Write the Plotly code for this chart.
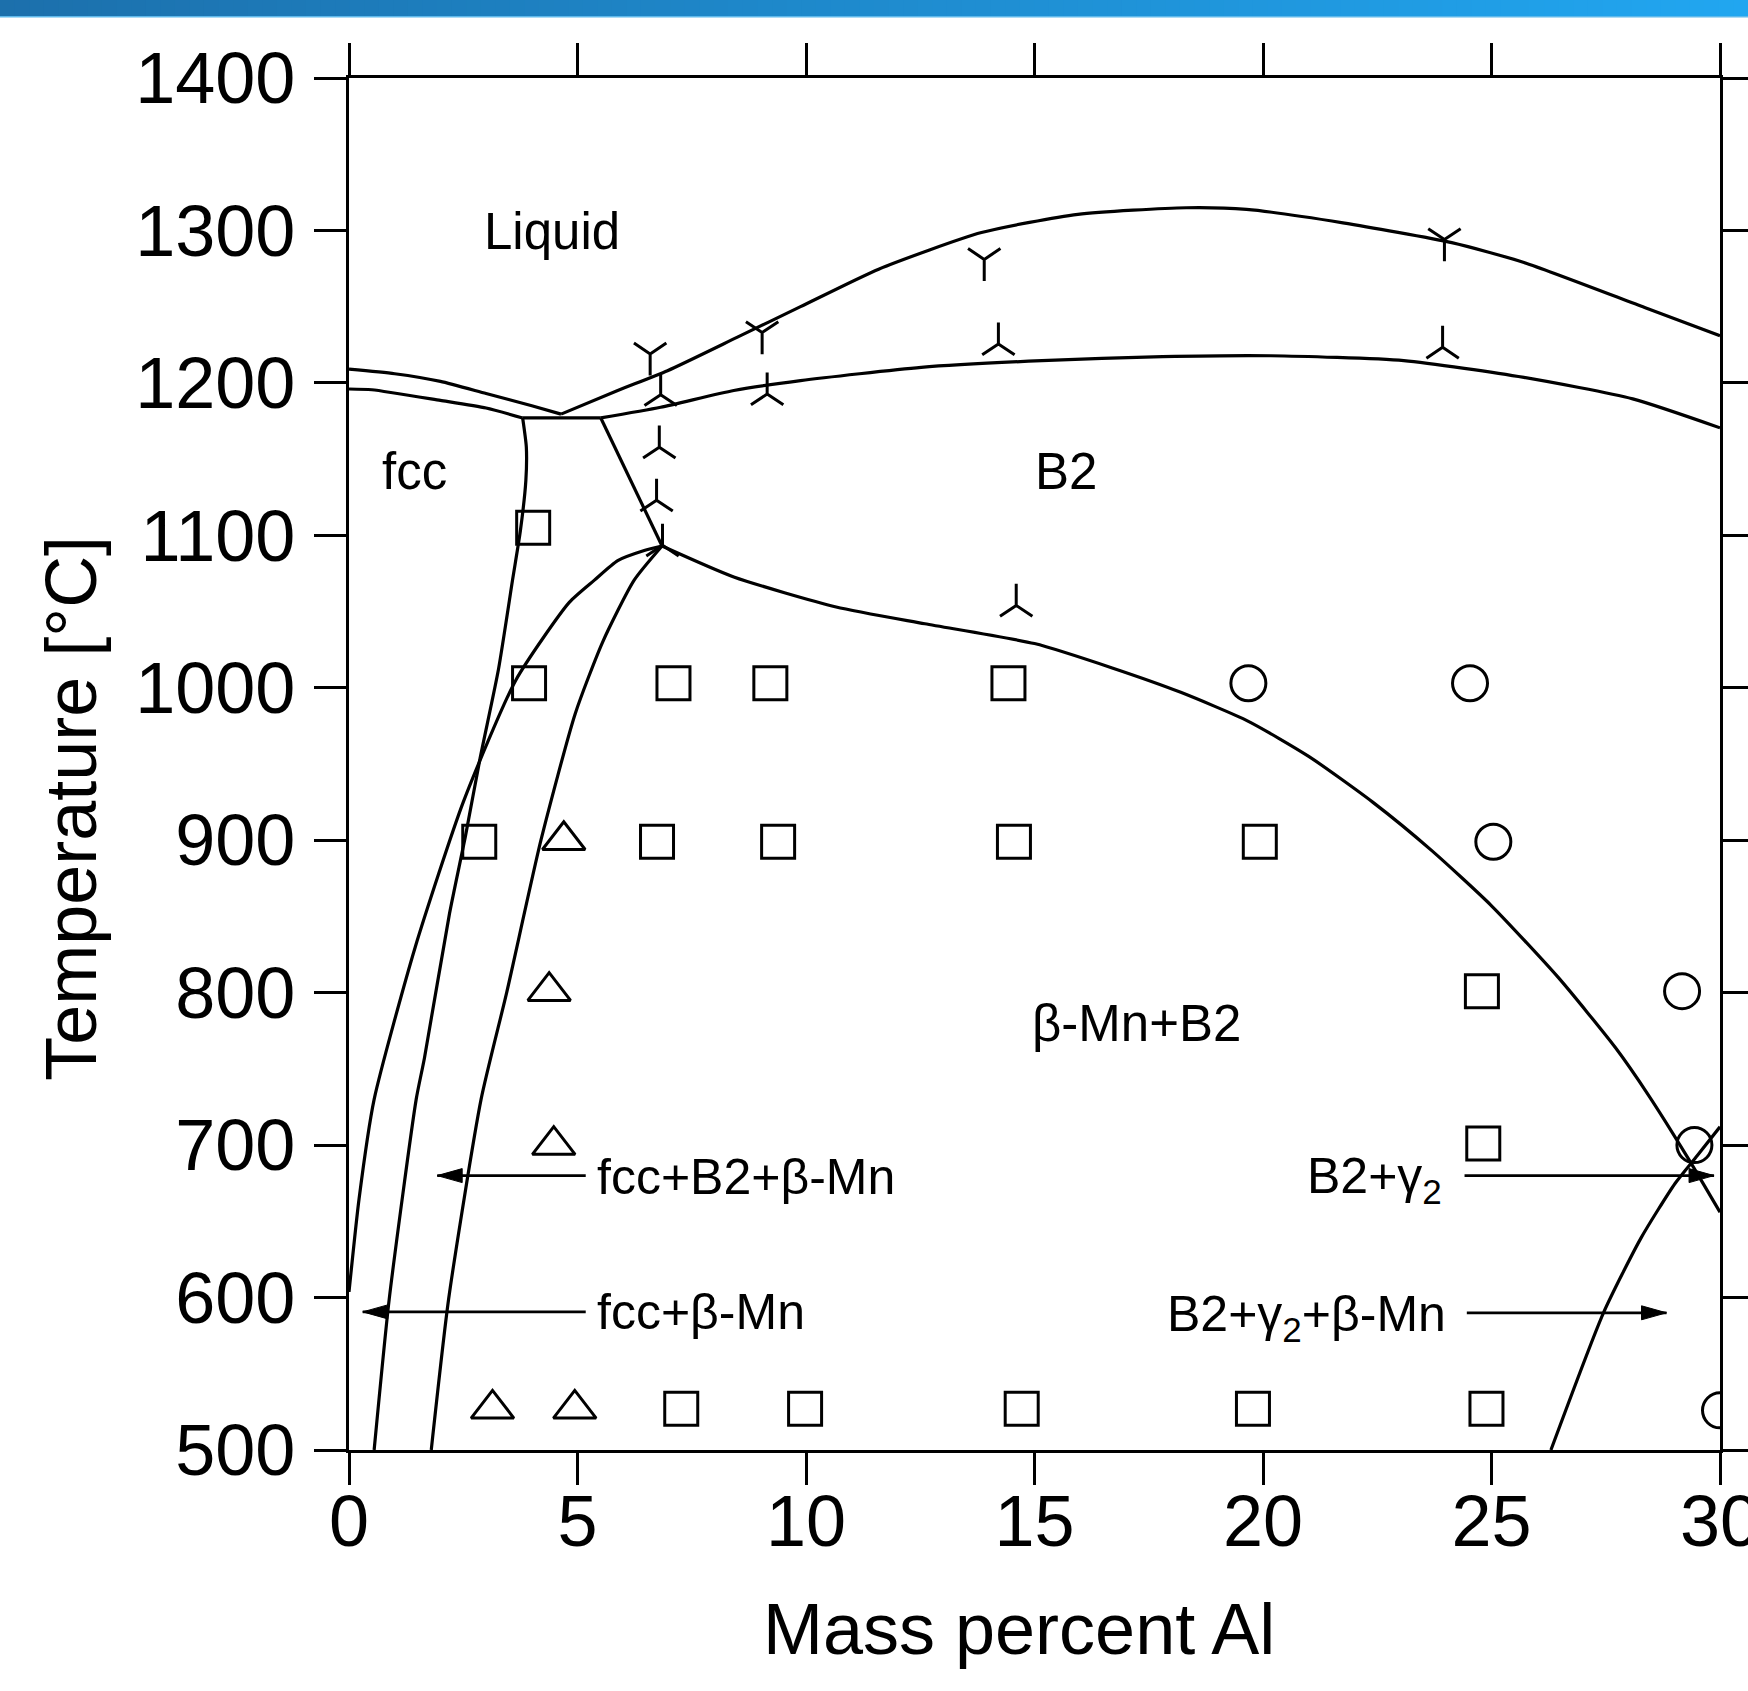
import plotly.graph_objects as go

# ---- phase boundaries (mass % Al, temperature in °C) ----
liq_fcc_x = [0.0, 1.0, 2.0, 3.0, 4.0, 4.64]
liq_fcc_t = [1209, 1206, 1201, 1193, 1185, 1179.5]

sol_fcc_x = [0.0, 0.5, 2.0, 3.0, 3.8]
sol_fcc_t = [1196, 1195.5, 1188.5, 1183.5, 1177]

peri_x = [3.8, 5.51]
peri_t = [1177, 1177]

liq_b2_x = [4.64, 5.88, 6.97, 8.5, 9.88, 11.59, 13.84, 15.95, 18.32, 19.64, 21.75, 24.13, 25.71, 28.35, 30.0]
liq_b2_t = [1179.5, 1195, 1208, 1230, 1250, 1274.6, 1298.6, 1310.6, 1314.9, 1313.8, 1305, 1292, 1279, 1249.5, 1231]

sol_b2_x = [5.51, 6.82, 8.42, 9.88, 12.52, 15.16, 17.80, 20.17, 23.08, 25.71, 28.09, 30.0]
sol_b2_t = [1177, 1184, 1195, 1201.5, 1210.2, 1214.6, 1217.2, 1217.8, 1214.6, 1203.6, 1189.5, 1170.5]

fcc_solvus_x = [3.80, 3.88, 3.87, 3.75, 3.58, 3.27, 2.87, 2.55, 2.20, 1.65, 1.47, 0.88, 0.55]
fcc_solvus_t = [1177, 1158, 1136, 1103, 1071, 1012, 954, 903, 852, 757, 730, 599, 500]

bmn_left_x = [0.0, 0.22, 0.55, 1.45, 2.5, 3.65, 4.82, 5.37, 5.88, 6.46, 6.85]
bmn_left_t = [603.7, 664.7, 730, 830, 925, 1005, 1056, 1070.6, 1083.4, 1090, 1093]

bmn_right_x = [1.80, 2.18, 2.89, 3.45, 4.2, 4.95, 5.55, 6.24, 6.85]
bmn_right_t = [500, 599, 730, 800, 900, 983, 1030, 1070.6, 1093]

b2_edge_x = [5.51, 6.85]
b2_edge_t = [1177, 1093]

b2_solvus_x = [6.85, 8.42, 10.66, 12.6, 15.0, 16.7, 18.2, 19.68, 21.0, 22.4, 23.7, 25.0, 26.46, 27.71, 28.43, 29.31, 30.0]
b2_solvus_t = [1093, 1072.7, 1053, 1042, 1029, 1013, 997, 978, 955, 925, 893, 857, 810, 764, 733, 691, 656]

gamma2_x = [26.3, 27.45, 28.27, 29.02, 29.5, 30.0]
gamma2_t = [500, 590, 639, 675, 693, 712]

# ---- experimental points ----
sq_x = [4.03, 3.94, 7.10, 9.22, 14.43, 2.85, 6.74, 9.39, 14.55, 19.93, 24.79, 24.82, 7.27, 9.98, 14.72, 19.78, 24.89]
sq_t = [1105, 1003, 1003, 1003, 1003, 899, 899, 899, 899, 899, 801, 701, 527, 527, 527, 527, 527]

tri_x = [4.70, 4.38, 4.48, 3.14, 4.94]
tri_t = [900, 801, 700, 527, 527]

circ_x = [19.68, 24.53, 25.04, 29.17, 29.44, 30.0]
circ_t = [1003, 1003, 899, 801, 700, 526]

liq_pts_x = [6.59, 9.04, 13.9, 23.97]
liq_pts_t = [1219, 1233, 1281, 1294]

sol_pts_x = [6.82, 9.15, 6.79, 6.73, 6.86, 14.21, 23.93, 14.6]
sol_pts_t = [1192.3, 1192.7, 1157.8, 1123, 1093.5, 1225.5, 1223.3, 1054]

# ---- region labels ----
region_text = ["Liquid", "fcc", "B2", "β-Mn+B2"]
region_x = [4.45, 1.44, 15.70, 17.23]
region_t = [1299, 1141.6, 1141.7, 780]

# ---- arrowed labels: text, text anchor, arrow tail and tip ----
arrow_text = ["fcc+B2+β-Mn", "fcc+β-Mn", "B2+γ<sub>2</sub>", "B2+γ<sub>2</sub>+β-Mn"]
arrow_text_x = [5.39, 5.39, 23.97, 24.04]
arrow_text_t = [679, 590.5, 682.7, 592]
arrow_text_shift = [0, 0, -8, -8]
arrow_text_anchor = ["left", "left", "right", "right"]
arrow_tail_x = [5.18, 5.18, 24.41, 24.46]
arrow_tip_x = [1.93, 0.30, 29.87, 28.83]
arrow_t = [680, 590.6, 680, 590]

FONT = "Liberation Sans, Arial, Helvetica, sans-serif"
LW = 3.2

fig = go.Figure()

curves = [
    (liq_fcc_x, liq_fcc_t), (sol_fcc_x, sol_fcc_t), (peri_x, peri_t),
    (liq_b2_x, liq_b2_t), (sol_b2_x, sol_b2_t), (fcc_solvus_x, fcc_solvus_t),
    (bmn_left_x, bmn_left_t), (bmn_right_x, bmn_right_t), (b2_edge_x, b2_edge_t),
    (b2_solvus_x, b2_solvus_t), (gamma2_x, gamma2_t),
]
for cx, ct in curves:
    fig.add_trace(go.Scatter(
        x=cx, y=ct, mode="lines",
        line=dict(color="black", width=LW, shape="spline", smoothing=0.6),
        hoverinfo="skip", showlegend=False,
    ))

def add_points(px, pt, symbol, size):
    fig.add_trace(go.Scatter(
        x=px, y=pt, mode="markers", showlegend=False,
        marker=dict(symbol=symbol, size=size, color="black",
                    line=dict(color="black", width=3)),
    ))

add_points(sq_x, sq_t, "square-open", 33)
add_points(tri_x, tri_t, "triangle-up-open", 37)
add_points(circ_x, circ_t, "circle-open", 35)
add_points(liq_pts_x, liq_pts_t, "y-down", 27)
add_points(sol_pts_x, sol_pts_t, "y-up", 27)

annotations = []
for txt, x, t in zip(region_text, region_x, region_t):
    annotations.append(dict(x=x, y=t, xref="x", yref="y", text=txt, showarrow=False,
                            xanchor="center", yanchor="middle",
                            font=dict(family=FONT, size=51, color="black")))
for txt, x, t, anc, ys in zip(arrow_text, arrow_text_x, arrow_text_t, arrow_text_anchor, arrow_text_shift):
    annotations.append(dict(x=x, y=t, xref="x", yref="y", text=txt, showarrow=False,
                            xanchor=anc, yanchor="middle", yshift=ys,
                            font=dict(family=FONT, size=50, color="black")))

# axis titles
annotations.append(dict(x=-0.2028, y=0.468, xref="paper", yref="paper",
                        text="Temperature [°C]", textangle=-90, showarrow=False,
                        xanchor="center", yanchor="middle",
                        font=dict(family=FONT, size=72, color="black")))
annotations.append(dict(x=0.4887, y=-0.1305, xref="paper", yref="paper",
                        text="Mass percent Al", showarrow=False,
                        xanchor="center", yanchor="middle",
                        font=dict(family=FONT, size=72, color="black")))

shapes = []
# arrow shafts and heads
for x0, x1, t in zip(arrow_tail_x, arrow_tip_x, arrow_t):
    shapes.append(dict(type="line", xref="x", yref="y", x0=x0, x1=x1, y0=t, y1=t,
                       line=dict(color="black", width=2.8)))
    d = -1 if x1 > x0 else 1
    shapes.append(dict(type="path", xref="x", yref="y",
                       xsizemode="pixel", ysizemode="pixel", xanchor=x1, yanchor=t,
                       path=f"M0,0 L{25 * d},7 L{25 * d},-7 Z",
                       fillcolor="black", line=dict(color="black", width=1)))

# header band with a horizontal blue gradient
W, H, L, T = 1371, 1372, 349, 78
def px_x(p):
    return (p - L) / W
def px_y(p):
    return 1 + (T - p) / H

c0 = (28, 112, 172)
c1 = (33, 166, 240)
N = 120
for i in range(N):
    f = i / (N - 1)
    col = tuple(round(a + (b - a) * f) for a, b in zip(c0, c1))
    shapes.append(dict(type="rect", xref="paper", yref="paper",
                       x0=px_x(1748 * i / N), x1=px_x(1748 * (i + 1) / N + 1),
                       y0=px_y(16), y1=px_y(0),
                       fillcolor=f"rgb{col}", line=dict(width=0), layer="above"))
shapes.append(dict(type="rect", xref="paper", yref="paper",
                   x0=px_x(0), x1=px_x(1748), y0=px_y(17.5), y1=px_y(16),
                   fillcolor="rgb(95,185,235)", line=dict(width=0), layer="above"))

axis_common = dict(
    showline=True, linecolor="black", linewidth=3.4, mirror="ticks",
    ticks="outside", ticklen=32, tickwidth=3, tickcolor="black",
    showgrid=False, zeroline=False, ticklabeloverflow="allow",
    tickfont=dict(family=FONT, size=72, color="black"),
)

fig.update_layout(
    width=1748, height=1691,
    margin=dict(l=L, r=1748 - L - W, t=T, b=1691 - T - H, autoexpand=False),
    paper_bgcolor="white", plot_bgcolor="white",
    xaxis=dict(range=[0, 30], tickvals=[0, 5, 10, 15, 20, 25, 30], ticklabelstandoff=-26, **axis_common),
    yaxis=dict(range=[500, 1400], tickvals=list(range(500, 1401, 100)), ticklabelstandoff=4, **axis_common),
    annotations=annotations,
    shapes=shapes,
    showlegend=False,
)

fig.write_html("out.html")
